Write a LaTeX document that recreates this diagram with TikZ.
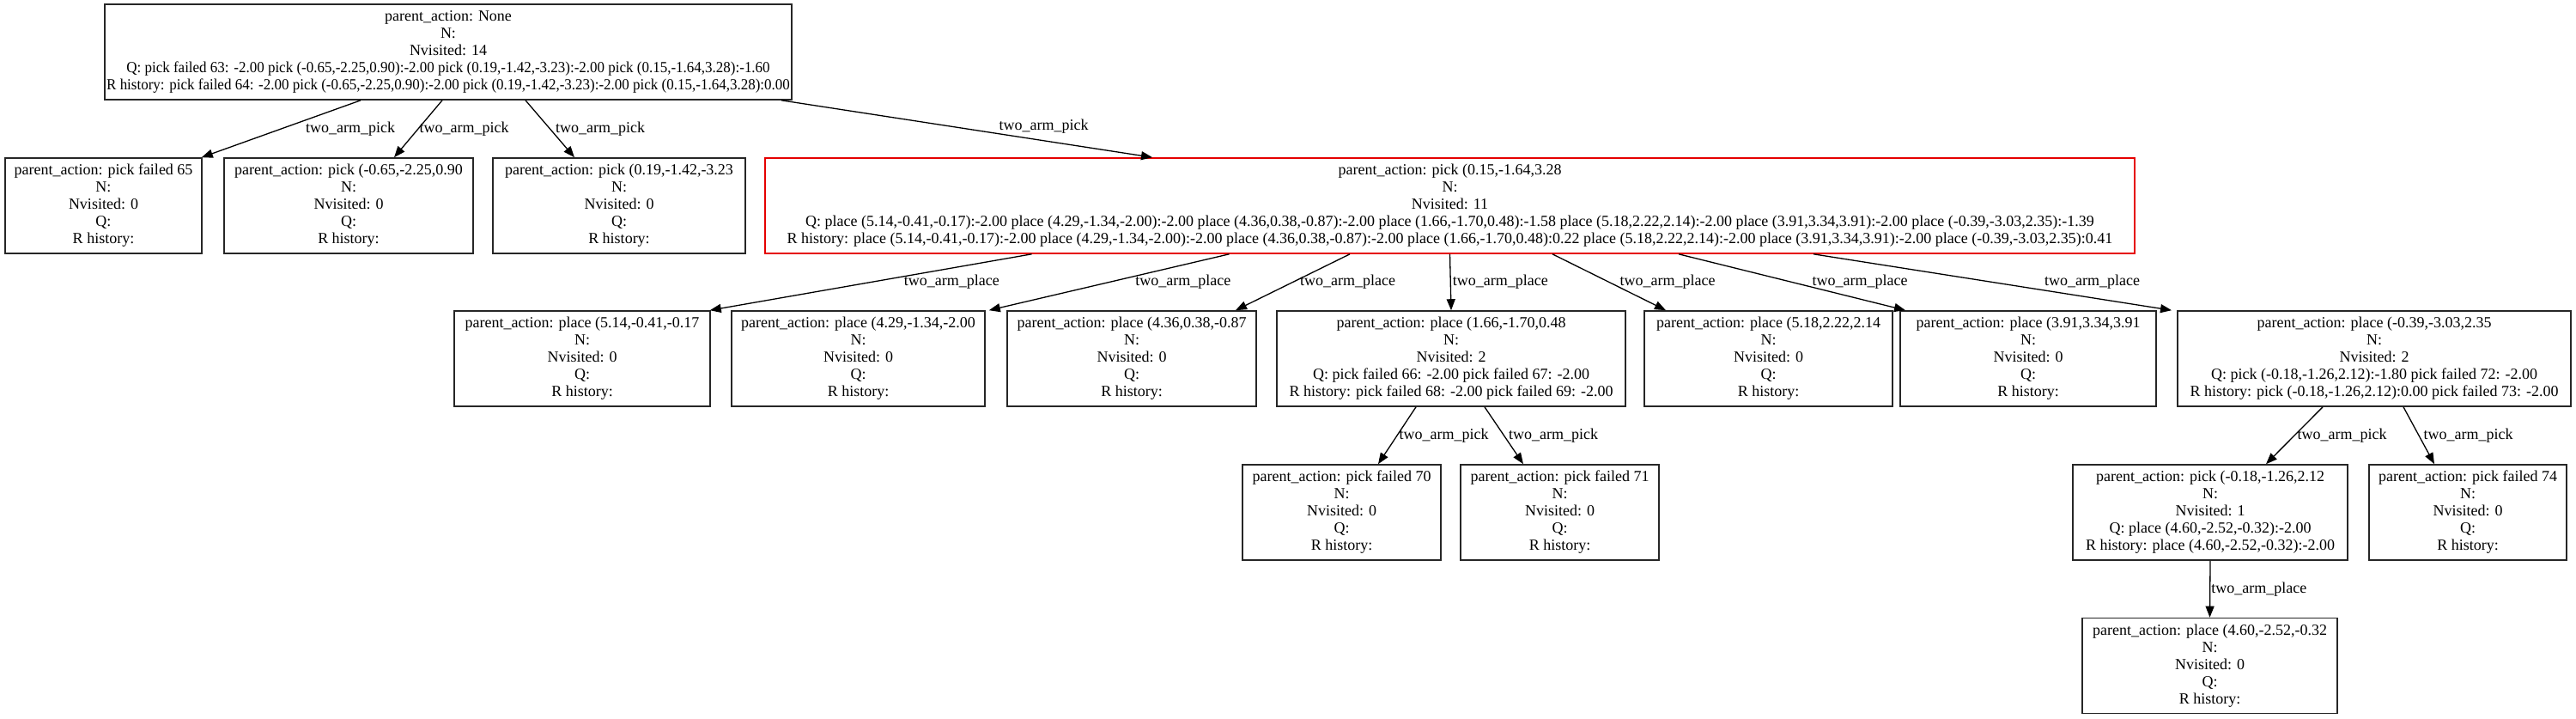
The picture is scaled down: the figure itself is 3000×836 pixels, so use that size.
\documentclass[tikz,border=0pt]{standalone}
\usepackage{fontspec}
\setmainfont{Liberation Serif}
\usetikzlibrary{arrows.meta}
\newcommand{\narrowline}[1]{\scalebox{0.944}[1]{#1}}
\begin{document}
\begin{tikzpicture}[x=1pt,y=-1pt,
  box/.style={draw=black!85, line width=1.6pt, inner sep=0pt, align=center,
    font=\fontsize{18}{20}\selectfont, minimum height=111pt},
  redbox/.style={box, draw=red!90!black},
  lbl/.style={font=\fontsize{18}{20}\selectfont, inner sep=0pt, anchor=west},
  conn/.style={draw=black, line width=1.3pt, -{Triangle[length=13pt,width=10pt]}}
]
\useasboundingbox[fill=white] (0,0) rectangle (3000,836);

% root
\node[box, minimum width=800pt] (root) at (522,60.5) {parent\_action: None\\N:\\Nvisited: 14\\\narrowline{Q: pick failed 63: -2.00 pick (-0.65,-2.25,0.90):-2.00 pick (0.19,-1.42,-3.23):-2.00 pick (0.15,-1.64,3.28):-1.60}\\\narrowline{R history: pick failed 64: -2.00 pick (-0.65,-2.25,0.90):-2.00 pick (0.19,-1.42,-3.23):-2.00 pick (0.15,-1.64,3.28):0.00}};

% row 1
\node[box, minimum width=229pt] (A1) at (120.5,239.5) {parent\_action: pick failed 65\\N:\\Nvisited: 0\\Q:\\R history:};
\node[box, minimum width=290pt] (A2) at (406,239.5) {parent\_action: pick (-0.65,-2.25,0.90\\N:\\Nvisited: 0\\Q:\\R history:};
\node[box, minimum width=294pt] (A3) at (721,239.5) {parent\_action: pick (0.19,-1.42,-3.23\\N:\\Nvisited: 0\\Q:\\R history:};
\node[redbox, minimum width=1595pt] (R) at (1688.5,239.5) {parent\_action: pick (0.15,-1.64,3.28\\N:\\Nvisited: 11\\Q: place (5.14,-0.41,-0.17):-2.00 place (4.29,-1.34,-2.00):-2.00 place (4.36,0.38,-0.87):-2.00 place (1.66,-1.70,0.48):-1.58 place (5.18,2.22,2.14):-2.00 place (3.91,3.34,3.91):-2.00 place (-0.39,-3.03,2.35):-1.39\\R history: place (5.14,-0.41,-0.17):-2.00 place (4.29,-1.34,-2.00):-2.00 place (4.36,0.38,-0.87):-2.00 place (1.66,-1.70,0.48):0.22 place (5.18,2.22,2.14):-2.00 place (3.91,3.34,3.91):-2.00 place (-0.39,-3.03,2.35):0.41};

% row 2
\node[box, minimum width=298pt] (B1) at (678,417.5) {parent\_action: place (5.14,-0.41,-0.17\\N:\\Nvisited: 0\\Q:\\R history:};
\node[box, minimum width=295pt] (B2) at (999.5,417.5) {parent\_action: place (4.29,-1.34,-2.00\\N:\\Nvisited: 0\\Q:\\R history:};
\node[box, minimum width=290pt] (B3) at (1318,417.5) {parent\_action: place (4.36,0.38,-0.87\\N:\\Nvisited: 0\\Q:\\R history:};
\node[box, minimum width=406pt] (B4) at (1690,417.5) {parent\_action: place (1.66,-1.70,0.48\\N:\\Nvisited: 2\\Q: pick failed 66: -2.00 pick failed 67: -2.00\\R history: pick failed 68: -2.00 pick failed 69: -2.00};
\node[box, minimum width=289pt] (B5) at (2059.5,417.5) {parent\_action: place (5.18,2.22,2.14\\N:\\Nvisited: 0\\Q:\\R history:};
\node[box, minimum width=298pt] (B6) at (2362,417.5) {parent\_action: place (3.91,3.34,3.91\\N:\\Nvisited: 0\\Q:\\R history:};
\node[box, minimum width=458pt] (B7) at (2765,417.5) {parent\_action: place (-0.39,-3.03,2.35\\N:\\Nvisited: 2\\Q: pick (-0.18,-1.26,2.12):-1.80 pick failed 72: -2.00\\R history: pick (-0.18,-1.26,2.12):0.00 pick failed 73: -2.00};

% row 3
\node[box, minimum width=231pt] (C1) at (1562.5,596.5) {parent\_action: pick failed 70\\N:\\Nvisited: 0\\Q:\\R history:};
\node[box, minimum width=231pt] (C2) at (1816.5,596.5) {parent\_action: pick failed 71\\N:\\Nvisited: 0\\Q:\\R history:};
\node[box, minimum width=320pt] (C3) at (2574,596.5) {parent\_action: pick (-0.18,-1.26,2.12\\N:\\Nvisited: 1\\Q: place (4.60,-2.52,-0.32):-2.00\\R history: place (4.60,-2.52,-0.32):-2.00};
\node[box, minimum width=230pt] (C4) at (2874,596.5) {parent\_action: pick failed 74\\N:\\Nvisited: 0\\Q:\\R history:};

% row 4
\node[box, minimum width=297pt] (D1) at (2573.5,775) {parent\_action: place (4.60,-2.52,-0.32\\N:\\Nvisited: 0\\Q:\\R history:};

% connectors from root
\draw[conn] ([xshift=-102pt]root.south) -- node[lbl,pos=0.5,xshift=28pt]{two\_arm\_pick} ([xshift=-1pt]A1.north east);
\draw[conn] ([xshift=-7pt]root.south) -- node[lbl,pos=0.5,xshift=1pt]{two\_arm\_pick} ([xshift=53pt]A2.north);
\draw[conn] ([xshift=90pt]root.south) -- node[lbl,pos=0.5,xshift=6pt]{two\_arm\_pick} ([xshift=-52pt]A3.north);
\draw[conn] ([xshift=388pt]root.south) -- node[lbl,pos=0.456,xshift=56pt]{two\_arm\_pick} ([xshift=-346.5pt]R.north);

% connectors from R
\draw[conn] ([xshift=-487pt]R.south) -- node[lbl,pos=0.5,xshift=38pt]{two\_arm\_place} ([xshift=-1pt]B1.north east);
\draw[conn] ([xshift=-257pt]R.south) -- node[lbl,pos=0.5,xshift=30pt]{two\_arm\_place} ([xshift=4pt]B2.north east);
\draw[conn] ([xshift=-116.5pt]R.south) -- node[lbl,pos=0.5,xshift=8pt]{two\_arm\_place} ([xshift=121pt]B3.north);
\draw[conn] (R.south) -- node[lbl,pos=0.5,xshift=2pt]{two\_arm\_place} (B4.north);
\draw[conn] ([xshift=119.5pt]R.south) -- node[lbl,pos=0.5,xshift=12pt]{two\_arm\_place} ([xshift=-119.5pt]B5.north);
\draw[conn] ([xshift=266.5pt]R.south) -- node[lbl,pos=0.5,xshift=23pt]{two\_arm\_place} ([xshift=-143pt]B6.north);
\draw[conn] ([xshift=423.5pt]R.south) -- node[lbl,pos=0.5,xshift=60pt]{two\_arm\_place} ([xshift=-236pt]B7.north);

% connectors from B4 and B7
\draw[conn] ([xshift=-41pt]B4.south) -- node[lbl,pos=0.5,xshift=2pt]{two\_arm\_pick} ([xshift=42.5pt]C1.north);
\draw[conn] ([xshift=39pt]B4.south) -- node[lbl,pos=0.5,xshift=5pt]{two\_arm\_pick} ([xshift=-42.5pt]C2.north);
\draw[conn] ([xshift=-60pt]B7.south) -- node[lbl,pos=0.5,xshift=3pt]{two\_arm\_pick} ([xshift=65pt]C3.north);
\draw[conn] ([xshift=34pt]B7.south) -- node[lbl,pos=0.5,xshift=5pt]{two\_arm\_pick} ([xshift=-39pt]C4.north);

% connector from C3
\draw[conn] (C3.south) -- node[lbl,pos=0.5,xshift=1pt]{two\_arm\_place} (D1.north);
\end{tikzpicture}
\end{document}
